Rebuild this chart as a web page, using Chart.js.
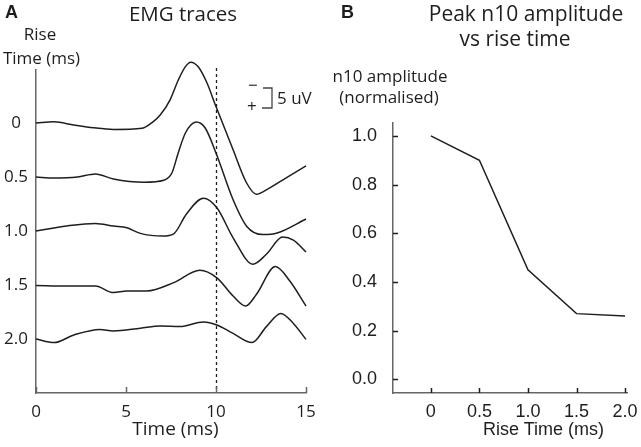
<!DOCTYPE html>
<html>
<head>
<meta charset="utf-8">
<script src="https://cdn.jsdelivr.net/npm/chart.js@4.4.1/dist/chart.umd.min.js"></script>
<style>
  body { margin:0; background:#fff; width:641px; height:447px; overflow:hidden; position:relative; color:#1e1e1e; }
  canvas { position:absolute; top:0; }
  .t { position:absolute; white-space:nowrap; line-height:1; font-family:'Open Sans',sans-serif; }
  .c { transform:translateX(-50%); }
  .ar { font-family:'Liberation Sans',Arial,sans-serif; }
  .b { font-weight:bold; }
</style>
</head>
<body>
<canvas id="emg" width="320" height="447" style="left:0;width:320px;height:447px"></canvas>
<canvas id="peak" width="321" height="447" style="left:320px;width:321px;height:447px"></canvas>

<div class="t ar b" style="left:5px;top:2.7px;font-size:18px">A</div>
<div class="t c" style="left:183px;top:2.5px;font-size:20.5px">EMG traces</div>
<div class="t c" style="left:40px;top:25px;font-size:17px">Rise</div>
<div class="t c" style="left:41.5px;top:49px;font-size:17px">Time (ms)</div>
<div class="t" style="left:248px;top:76px;font-size:17px">−</div>
<div class="t" style="left:247px;top:97px;font-size:17px">+</div>
<div class="t" style="left:277px;top:89px;font-size:17px">5 uV</div>
<div class="t c" style="left:175.5px;top:419px;font-size:19px">Time (ms)</div>

<div class="t ar b" style="left:341px;top:2.7px;font-size:18px">B</div>
<div class="t c" style="left:526px;top:2.5px;font-size:21px">Peak n10 amplitude</div>
<div class="t c" style="left:515px;top:28px;font-size:21px">vs rise time</div>
<div class="t c" style="left:390px;top:66.6px;font-size:17px">n10 amplitude</div>
<div class="t c" style="left:389px;top:88px;font-size:17px">(normalised)</div>
<div class="t c ar" style="left:543.5px;top:420px;font-size:18px">Rise Time (ms)</div>

<script>
'use strict';
// ---- data ----
const riseTimes = ['0', '0.5', '1.0', '1.5', '2.0'];
const traceSpacing = 13.5;   // uV between stacked traces
const markerTime = 10;       // dashed line, ms
const scaleBarUv = 5;

const trace0Time = [0, 1.0, 2.1, 3.2, 4.3, 5.9, 6.5, 6.9, 7.45, 7.9, 8.3, 8.6, 9.0, 9.5, 10.0, 10.95, 11.7, 12.25, 12.8, 13.9, 15];
const trace0Amp  = [0, 0.3, -0.5, -1.2, -1.6, -1.3, 0.3, 2.0, 5.8, 10.7, 14.1, 15.2, 14.1, 10, 4.1, -6.7, -15, -17.8, -16.7, -13.7, -10.7];

const trace05Time = [0, 1.0, 2.3, 3.3, 4.3, 6.0, 7.1, 7.55, 7.9, 8.3, 8.9, 9.4, 10.0, 10.95, 11.7, 12.6, 13.4, 15];
const trace05Amp  = [0, -0.25, 0, 0.75, -0.5, -1.3, -0.8, 1.0, 6.0, 11, 13.75, 12.25, 6, -5.7, -12.3, -14.4, -14, -10.5];

const trace10Time = [0, 1.7, 3.3, 4.3, 5.05, 5.8, 7.05, 7.65, 8.35, 9.3, 10.05, 10.95, 12.05, 12.8, 13.7, 14.3, 15];
const trace10Amp  = [0, 1.25, 1.9, 1.25, 0.8, -0.6, -1.25, -0.7, 4.2, 8.2, 5.8, -1.7, -8.3, -5.8, -1.5, -2.3, -5.25];

const trace15Time = [0, 1.7, 3.3, 4.3, 5.05, 6.15, 7.65, 9.1, 10.05, 10.95, 11.65, 12.25, 13.3, 14.1, 15];
const trace15Amp  = [-0.1, -0.25, -0.25, -1.9, -1.5, -1.5, 0.6, 3.7, 1.8, -2.75, -5.25, -2.3, 4.6, 1.0, -5.25];

const trace20Time = [0, 1.0, 2.1, 3.55, 4.3, 5.8, 6.9, 8.0, 9.3, 10.05, 10.95, 12.0, 12.8, 13.6, 14.3, 15];
const trace20Amp  = [0, -0.9, 1.0, 2.4, 2.0, 2.7, 3.25, 3.1, 4.25, 3.5, 1.4, -0.9, 3.1, 6.4, 3.9, -0.1];

const peakRise = [0, 0.5, 1.0, 1.5, 2.0];
const peakAmp  = [1.0, 0.9, 0.45, 0.27, 0.26];
const peakYTicks = [0, 0.2, 0.4, 0.6, 0.8, 1.0];

const INK = '#1e1e1e';
const AXIS = '#666';
const FONT_A = "'Open Sans', sans-serif";
const FONT_B = "'Liberation Sans', Arial, sans-serif";

// ticks pointing into the plot
const innerTicks = {
  id: 'innerTicks',
  afterDraw(chart, args, opts) {
    const { ctx, chartArea } = chart;
    ctx.save();
    ctx.strokeStyle = opts.color; ctx.lineWidth = opts.width;
    (opts.axes || []).forEach(id => {
      const s = chart.scales[id];
      s.ticks.forEach(t => {
        const p = Math.round(s.getPixelForValue(t.value)) + 0.5;
        ctx.beginPath();
        if (s.isHorizontal()) { ctx.moveTo(p, chartArea.bottom); ctx.lineTo(p, chartArea.bottom - opts.length); }
        else { ctx.moveTo(chartArea.left, p); ctx.lineTo(chartArea.left + opts.length, p); }
        ctx.stroke();
      });
    });
    ctx.restore();
  }
};

// dashed marker + 5 uV scale bar for panel A
const emgExtras = {
  id: 'emgExtras',
  afterDatasetsDraw(chart) {
    const { ctx, chartArea, scales: { x, y } } = chart;
    ctx.save();
    const mx = Math.round(x.getPixelForValue(markerTime)) + 0.5;
    ctx.strokeStyle = INK; ctx.lineWidth = 1.3; ctx.setLineDash([3, 3]);
    ctx.beginPath(); ctx.moveTo(mx, chartArea.top - 2); ctx.lineTo(mx, chartArea.bottom); ctx.stroke();
    ctx.setLineDash([]);
    const barLen = y.getPixelForValue(0) - y.getPixelForValue(scaleBarUv);
    const top = chartArea.top + 18, bx = chartArea.left + 236;
    ctx.strokeStyle = '#444'; ctx.lineWidth = 1.3;
    ctx.beginPath();
    ctx.moveTo(bx - 9, top); ctx.lineTo(bx, top); ctx.lineTo(bx, top + barLen); ctx.lineTo(bx - 10, top + barLen);
    ctx.stroke();
    ctx.restore();
  }
};

function traceSet(times, amps, i) {
  const base = (riseTimes.length - i) * traceSpacing;
  return {
    data: times.map((t, k) => ({ x: t, y: amps[k] + base })),
    borderColor: INK, borderWidth: 1.5, pointRadius: 0,
    cubicInterpolationMode: 'monotone', clip: false
  };
}

const baseTicks = riseTimes.map((r, i) => (riseTimes.length - i) * traceSpacing);

new Chart(document.getElementById('emg'), {
  type: 'line',
  data: {
    datasets: [
      traceSet(trace0Time, trace0Amp, 0),
      traceSet(trace05Time, trace05Amp, 1),
      traceSet(trace10Time, trace10Amp, 2),
      traceSet(trace15Time, trace15Amp, 3),
      traceSet(trace20Time, trace20Amp, 4)
    ]
  },
  options: {
    responsive: false, animation: false, devicePixelRatio: 1,
    layout: { padding: { top: 70, right: 14, bottom: 0, left: 0 } },
    plugins: { legend: { display: false }, tooltip: { enabled: false },
      innerTicks: { axes: ['x'], length: 6, color: AXIS, width: 1.5 } },
    scales: {
      x: {
        type: 'linear', min: 0, max: 15,
        grid: { display: false }, border: { color: AXIS, width: 1.5 },
        ticks: { stepSize: 5, padding: 1, color: INK, font: { family: FONT_A, size: 17 } },
        afterFit: s => { s.height = 54; }
      },
      y: {
        type: 'linear', min: 0, max: 80.75,
        grid: { display: false }, border: { color: AXIS, width: 1.5 },
        afterBuildTicks: s => { s.ticks = baseTicks.map(v => ({ value: v })); },
        ticks: { autoSkip: false, crossAlign: 'center', padding: 0, color: INK,
          font: { family: FONT_A, size: 17 },
          callback: v => riseTimes[baseTicks.indexOf(v)] },
        afterFit: s => { s.width = 36; }
      }
    }
  },
  plugins: [innerTicks, emgExtras]
});

new Chart(document.getElementById('peak'), {
  type: 'line',
  data: {
    datasets: [{
      data: peakRise.map((r, k) => ({ x: r, y: peakAmp[k] })),
      borderColor: INK, borderWidth: 1.5, pointRadius: 0, tension: 0
    }]
  },
  options: {
    responsive: false, animation: false, devicePixelRatio: 1,
    layout: { padding: { top: 123, right: 14, bottom: 0, left: 0 } },
    plugins: { legend: { display: false }, tooltip: { enabled: false },
      innerTicks: { axes: ['x', 'y'], length: 5, color: INK, width: 1.5 } },
    scales: {
      x: {
        type: 'linear', min: -0.39, max: 2.02,
        grid: { display: false }, border: { color: AXIS, width: 1.5 },
        afterBuildTicks: s => { s.ticks = peakRise.map(v => ({ value: v })); },
        ticks: { autoSkip: false, padding: 0, color: INK, font: { family: FONT_B, size: 18 },
          callback: v => v === 0 ? '0' : v.toFixed(1) },
        afterFit: s => { s.height = 54; }
      },
      y: {
        type: 'linear', min: -0.056, max: 1.053,
        grid: { display: false }, border: { color: AXIS, width: 1.5 },
        afterBuildTicks: s => { s.ticks = peakYTicks.map(v => ({ value: v })); },
        ticks: { autoSkip: false, padding: 8, color: INK, font: { family: FONT_B, size: 18 },
          callback: v => v.toFixed(1) },
        afterFit: s => { s.width = 73; }
      }
    }
  },
  plugins: [innerTicks]
});
</script>
</body>
</html>
